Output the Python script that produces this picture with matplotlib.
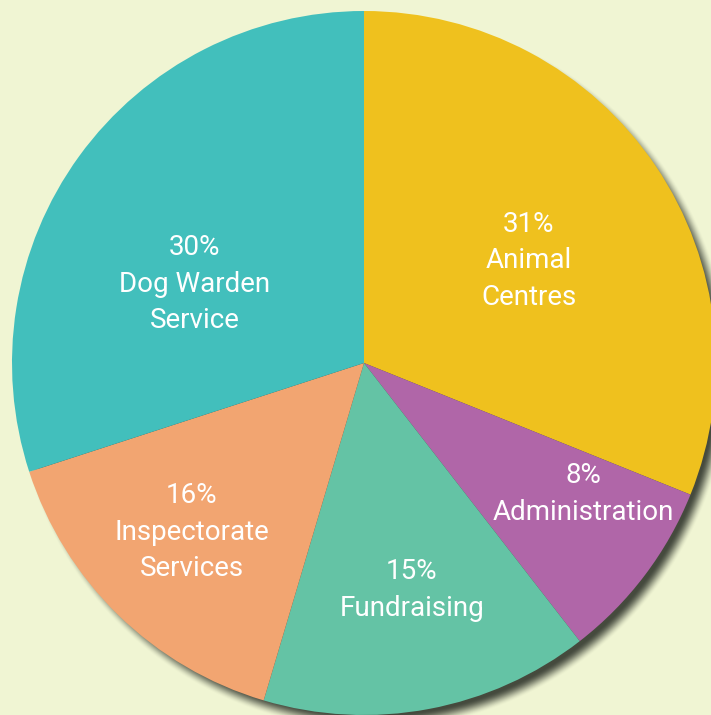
import numpy as np
import matplotlib
matplotlib.use("Agg")
import matplotlib.pyplot as plt

categories = ["Animal Centres", "Administration", "Fundraising", "Inspectorate Services", "Dog Warden Service"]
values = [31.1, 8.4, 15.1, 15.4, 30.0]
label_text = ["31%\nAnimal\nCentres", "8%\nAdministration", "15%\nFundraising",
              "16%\nInspectorate\nServices", "30%\nDog Warden\nService"]
colors = ["#EFC11E", "#B066A8", "#64C3A5", "#F2A571", "#42BFBC"]
bg = "#F0F5D3"

W, H = 711, 715
fig = plt.figure(figsize=(W / 100, H / 100), dpi=100, facecolor=bg)
ax = fig.add_axes([0, 0, 1, 1])
ax.set_facecolor(bg)

cx, cy, R = 364, H - 363, 352

# soft drop shadow behind the pie (offset down-right)
yy, xx = np.mgrid[0:H, 0:W] + 0.5
d = np.hypot(xx - (cx + 8), yy - (cy - 9))
t = np.clip((d - (R - 9)) / 15.0, 0, 1)
alpha = 0.92 * (1 - t * t * (3 - 2 * t))
shadow = np.zeros((H, W, 4))
shadow[..., 0] = 0.21
shadow[..., 1] = 0.23
shadow[..., 2] = 0.19
shadow[..., 3] = alpha
ax.imshow(shadow, extent=(0, W, 0, H), origin="lower", zorder=1, interpolation="bilinear")

wedges, _ = ax.pie(values, colors=colors, startangle=90, counterclock=False,
                   center=(cx, cy), radius=R, frame=True,
                   wedgeprops=dict(linewidth=0))
for w in wedges:
    w.set_zorder(2)

ax.set_xlim(0, W)
ax.set_ylim(0, H)
ax.set_aspect("equal")
ax.axis("off")

pos = [(529, 261), (583, 494), (412, 590), (192, 532), (195, 284)]
for (x, y), txt in zip(pos, label_text):
    ax.text(x, H - y, txt, ha="center", va="center", color="white",
            fontsize=20, family="Roboto", linespacing=1.45, zorder=3)

fig.savefig("out.png", dpi=100, facecolor=bg)
